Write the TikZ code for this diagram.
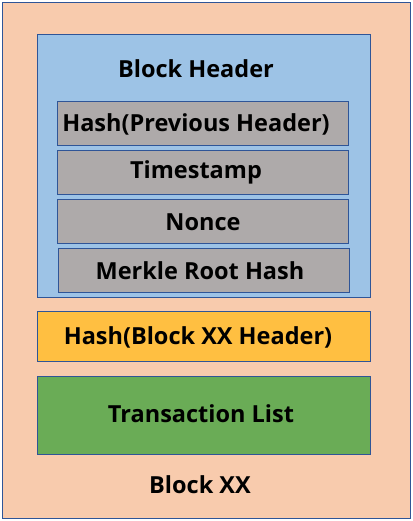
\documentclass[tikz,border=0pt]{standalone}
\usepackage{fontspec}
\setmainfont{Open Sans}
\definecolor{edge}{HTML}{2F5597}
\definecolor{peach}{HTML}{F8CBAD}
\definecolor{sky}{HTML}{9DC3E6}
\definecolor{stone}{HTML}{AEAAAA}
\definecolor{amber}{HTML}{FFBF41}
\definecolor{leaf}{HTML}{6AAC56}
\begin{document}
\begin{tikzpicture}[x=1pt,y=-1pt,
  box/.style={draw=edge,line width=1pt,rectangle,inner sep=0pt,anchor=north west},
  lbl/.style={font=\bfseries\fontsize{23.5}{27}\selectfont,text=black}]
\useasboundingbox (0,0) rectangle (412,521);
% outer block
\node[box,fill=peach,minimum width=408pt,minimum height=516pt] (block) at (2,2) {};
% header container
\node[box,fill=sky,minimum width=333pt,minimum height=263pt] (header) at (37,34) {};
\node[lbl] (htitle) at (196,69) {Block Header};
% header fields
\node[box,fill=stone,minimum width=291pt,minimum height=44pt] (prev) at (57,101) {};
\node[box,fill=stone,minimum width=291pt,minimum height=44pt] (time) at (57,150) {};
\node[box,fill=stone,minimum width=291pt,minimum height=44pt] (nonce) at (57,199) {};
\node[box,fill=stone,minimum width=291pt,minimum height=44pt] (merkle) at (58,248) {};
\node[lbl] at (196,124) {Hash(Previous Header)};
\node[lbl] at (196,172) {Timestamp};
\node[lbl] at (203,222) {Nonce};
\node[lbl] at (200,271) {Merkle Root Hash};
% block hash and transactions
\node[box,fill=amber,minimum width=333pt,minimum height=50pt] (bhash) at (37,311) {};
\node[lbl] at (198,337) {Hash(Block XX Header)};
\node[box,fill=leaf,minimum width=333pt,minimum height=78pt] (txs) at (37,376) {};
\node[lbl] at (201,414) {Transaction List};
\node[lbl] (bname) at (200,485) {Block XX};
\end{tikzpicture}
\end{document}
